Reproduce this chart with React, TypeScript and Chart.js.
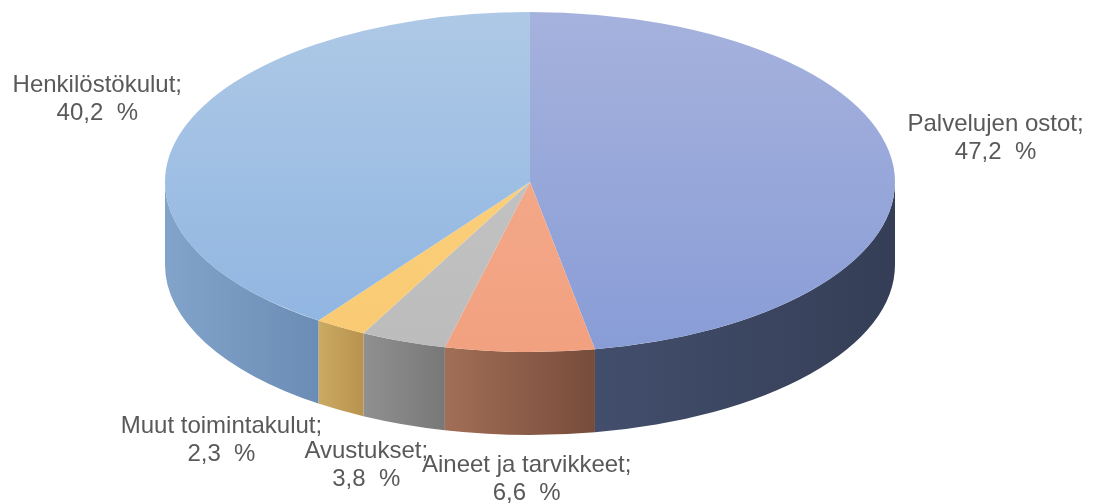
import React, { useEffect, useRef } from 'react';
import { Chart, registerables } from 'chart.js';

Chart.register(...registerables);

// ---- data ----
const categories = ['Palvelujen ostot', 'Aineet ja tarvikkeet', 'Avustukset', 'Muut toimintakulut', 'Henkilöstökulut'];
const shares = [47.2, 6.6, 3.8, 2.3, 40.2];

// ---- styles ----
const topLight = ['#a6b2dd', '#f4ae90', '#c7c7c7', '#fcd283', '#aec9e6'];
const topDark = ['#889cd6', '#f2a180', '#bcbcbc', '#f9ca72', '#8eb4e1'];
const sideLight = ['#424e6c', '#a26e56', '#909090', '#cbaa62', '#82a3ca'];
const sideDark = ['#353e56', '#774c3b', '#787878', '#b8934f', '#6b8cb4'];
const labelNudgeX = [102, 7, -37, -119, -85];
const labelNudgeY = [-36, 37, 34, 23, -38];

const W = 1099;
const H = 504;
const STRETCH = 365 / 170;
const DEPTH = 83;
const LINE_GAP = 28;

const fmt = (v: number) => v.toFixed(1).replace('.', ',') + '  %';

const pie3d = {
  id: 'pie3d',
  beforeDatasetsDraw(chart: any) {
    const ctx = chart.ctx as CanvasRenderingContext2D;
    const arcs = chart.getDatasetMeta(0).data as any[];
    if (!arcs.length) return;
    const { x: cx, y: cy, outerRadius } = arcs[0].getProps(['x', 'y', 'outerRadius'], true);
    const rx = outerRadius * STRETCH;
    const ry = outerRadius;
    arcs.forEach((arc, i) => {
      const { startAngle, endAngle } = arc.getProps(['startAngle', 'endAngle'], true);
      const s = Math.max(startAngle, 0);
      const e = Math.min(endAngle, Math.PI);
      if (e <= s) return;
      const x1 = cx + rx * Math.cos(s);
      const x2 = cx + rx * Math.cos(e);
      const g = ctx.createLinearGradient(Math.min(x1, x2), 0, Math.max(x1, x2), 0);
      g.addColorStop(0, sideLight[i]);
      g.addColorStop(1, sideDark[i]);
      ctx.beginPath();
      ctx.ellipse(cx, cy, rx, ry, 0, s, e, false);
      ctx.lineTo(cx + rx * Math.cos(e), cy + ry * Math.sin(e) + DEPTH);
      ctx.ellipse(cx, cy + DEPTH, rx, ry, 0, e, s, true);
      ctx.closePath();
      ctx.fillStyle = g;
      ctx.fill();
    });
    ctx.save();
    ctx.translate(cx, cy);
    ctx.scale(STRETCH, 1);
    ctx.translate(-cx, -cy);
  },
  afterDatasetsDraw(chart: any) {
    const ctx = chart.ctx as CanvasRenderingContext2D;
    const arcs = chart.getDatasetMeta(0).data as any[];
    if (!arcs.length) return;
    ctx.restore();
    const { x: cx, y: cy, outerRadius } = arcs[0].getProps(['x', 'y', 'outerRadius'], true);
    const rx = outerRadius * STRETCH;
    const ry = outerRadius;
    ctx.save();
    ctx.font = '24px "Liberation Sans", Arial, sans-serif';
    ctx.fillStyle = '#595959';
    ctx.textAlign = 'center';
    ctx.textBaseline = 'alphabetic';
    arcs.forEach((arc, i) => {
      const { startAngle, endAngle } = arc.getProps(['startAngle', 'endAngle'], true);
      const mid = (startAngle + endAngle) / 2;
      const px = cx + rx * Math.cos(mid);
      const py = cy + ry * Math.sin(mid) + (Math.sin(mid) > 0 ? DEPTH : 0);
      const x = px + labelNudgeX[i];
      const y = py + labelNudgeY[i];
      ctx.fillText(categories[i] + ';', x, y);
      ctx.fillText(fmt(shares[i]), x, y + LINE_GAP);
    });
    ctx.restore();
  },
};

export default function App() {
  const ref = useRef<HTMLCanvasElement | null>(null);
  useEffect(() => {
    document.body.style.margin = '0';
    const canvas = ref.current;
    if (!canvas) return;
    const chart = new Chart(canvas, {
      type: 'pie',
      data: {
        labels: categories,
        datasets: [
          {
            data: shares,
            backgroundColor: (c: any) => {
              const i = c.dataIndex ?? 0;
              const area = c.chart.chartArea;
              if (!area) return topLight[i];
              const g = c.chart.ctx.createLinearGradient(0, area.top, 0, area.bottom);
              g.addColorStop(0, topLight[i]);
              g.addColorStop(1, topDark[i]);
              return g;
            },
            borderWidth: 0,
            hoverOffset: 0,
            clip: false,
          } as any,
        ],
      },
      options: {
        responsive: false,
        animation: false,
        events: [],
        layout: { padding: { top: 12, bottom: 152, left: 360, right: 399 } },
        plugins: { legend: { display: false }, tooltip: { enabled: false }, title: { display: false } },
      },
      plugins: [pie3d],
    });
    return () => chart.destroy();
  }, []);
  return (
    <div style={{ width: W, height: H, background: '#ffffff' }}>
      <canvas ref={ref} width={W} height={H} style={{ width: W, height: H, display: 'block' }} />
    </div>
  );
}
